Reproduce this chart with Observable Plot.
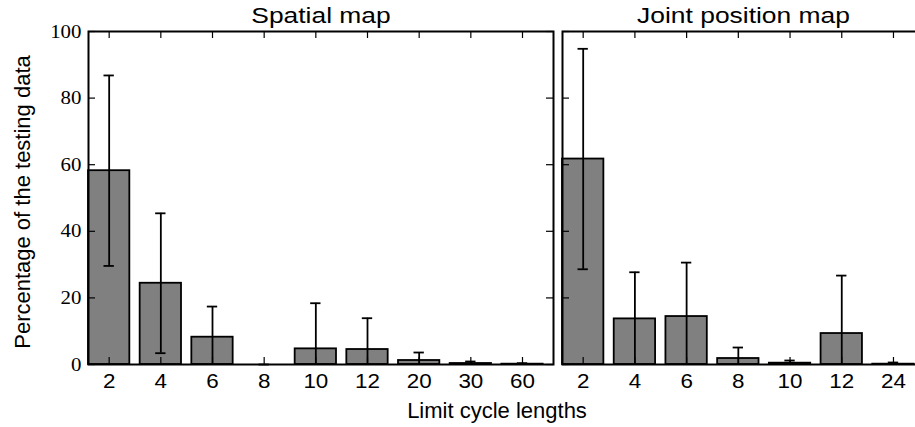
<!DOCTYPE html>
<html>
<head>
<meta charset="utf-8">
<script src="https://cdn.jsdelivr.net/npm/d3@7"></script>
<script src="https://cdn.jsdelivr.net/npm/@observablehq/plot@0.6"></script>
<style>
  html, body { margin: 0; padding: 0; background: white; }
  #wrap { position: relative; width: 915px; height: 427px; overflow: hidden; background: white; }
  #wrap svg { position: absolute; top: 0; }
  #xtitle { position: absolute; left: 347px; width: 300px; top: 400px; text-align: center;
            font: 22px/22px "Liberation Sans", Arial, sans-serif; color: black; }
</style>
</head>
<body>
<div id="wrap"><div id="xtitle">Limit cycle lengths</div></div>
<script>
// ---- data ----
const spatialLengths = ["2", "4", "6", "8", "10", "12", "20", "30", "60"];
const spatialMean    = [58.2, 24.4, 8.2, 0, 4.7, 4.5, 1.2, 0.3, 0.1];
const spatialErr     = [28.6, 21.0, 9.2, 0, 13.7, 9.4, 2.4, 0.6, 0.3];

const jointLengths = ["2", "4", "6", "8", "10", "12", "24"];
const jointMean    = [61.7, 13.7, 14.4, 1.8, 0.4, 9.3, 0.1];
const jointErr     = [33.1, 14.0, 16.2, 3.3, 0.8, 17.4, 0.5];

const yTicks = [0, 20, 40, 60, 80, 100];
const yLabel = "Percentage of the testing data";
const titles = ["Spatial map", "Joint position map"];

const H = 427, MT = 31, MB = 63, TICK = 7;

function panel({lengths, means, errs, title, width, marginLeft, marginRight, yAxis}) {
  const data = lengths.map((l, i) => ({i, l, v: means[i], e: errs[i]}));
  const idx = data.map(d => d.i);
  const innerH = H - MT - MB;
  const innerW = width - marginLeft - marginRight;
  const marks = [
    Plot.rectY(data, {x1: d => d.i - 0.4, x2: d => d.i + 0.4, y1: 0, y2: "v",
      fill: "#808080", stroke: "black", strokeWidth: 1.8}),
    Plot.ruleX(data, {x: "i", y1: d => Math.max(0, d.v - d.e), y2: d => d.v + d.e, stroke: "black", strokeWidth: 1.8}),
    Plot.ruleY(data, {y: d => d.v + d.e, x1: d => d.i - 0.1, x2: d => d.i + 0.1, stroke: "black", strokeWidth: 1.8}),
    Plot.ruleY(data.filter(d => d.v - d.e > 0), {y: d => d.v - d.e, x1: d => d.i - 0.1, x2: d => d.i + 0.1, stroke: "black", strokeWidth: 1.8}),
    // inward ticks on all four sides
    Plot.ruleX(idx, {x: d => d, insetTop: innerH - TICK, stroke: "black", strokeWidth: 1.2}),
    Plot.ruleX(idx, {x: d => d, insetBottom: innerH - TICK, stroke: "black", strokeWidth: 1.2}),
    Plot.ruleY(yTicks, {y: d => d, insetRight: innerW - TICK, stroke: "black", strokeWidth: 1.2}),
    Plot.ruleY(yTicks, {y: d => d, insetLeft: innerW - TICK, stroke: "black", strokeWidth: 1.2}),
    Plot.axisX(idx, {anchor: "bottom", tickSize: 0, tickPadding: 9, tickFormat: i => lengths[i],
      fontSize: 20, fontFamily: "Liberation Sans", label: null}),
    Plot.frame({stroke: "black", strokeWidth: 2}),
    Plot.text([title], {frameAnchor: "top", dy: -16, lineAnchor: "middle", fontSize: 22,
      fontFamily: "Liberation Sans", fill: "black"})
  ];
  if (yAxis) {
    marks.push(
      Plot.axisY(yTicks, {anchor: "left", tickSize: 0, tickPadding: 7, fontSize: 19,
        fontFamily: "Liberation Serif", label: null}),
      Plot.text([yLabel], {frameAnchor: "left", rotate: -90, dx: -66, dy: 4, textAnchor: "middle",
        lineAnchor: "middle", fontSize: 22, fontFamily: "Liberation Sans", fill: "black"})
    );
  }
  return Plot.plot({
    width, height: H, marginLeft, marginRight, marginTop: MT, marginBottom: MB,
    style: {background: "transparent", overflow: "visible", fontFamily: "Liberation Sans", color: "black"},
    x: {domain: [-0.4, lengths.length - 0.4], axis: null},
    y: {domain: [0, 100], axis: null},
    marks
  });
}

const wrap = document.getElementById("wrap");
const left = panel({lengths: spatialLengths, means: spatialMean, errs: spatialErr, title: titles[0],
  width: 560, marginLeft: 88, marginRight: 7, yAxis: true});
left.style.left = "0px";
const right = panel({lengths: jointLengths, means: jointMean, errs: jointErr, title: titles[1],
  width: 380, marginLeft: 6, marginRight: 12, yAxis: false});
right.style.left = "556px";
wrap.appendChild(left);
wrap.appendChild(right);

// the reference glyphs are horizontally wider than the installed fonts:
// widen horizontal texts (titles, tick labels) with textLength
function stretch(svg, lengths) {
  const tickSet = new Set(lengths);
  const ySet = new Set(yTicks.map(String));
  svg.querySelectorAll("text").forEach(t => {
    const s = t.textContent.trim();
    let k = 1;
    if (titles.includes(s)) k = 1.2;
    else if (t.getAttribute("font-family") === "Liberation Serif" || t.closest('[font-family="Liberation Serif"]')) k = ySet.has(s) ? 1.1 : 1;
    else if (tickSet.has(s)) k = 1.12;
    if (k !== 1) {
      const w = t.getComputedTextLength();
      if (w > 0) {
        t.setAttribute("textLength", (w * k).toFixed(2));
        t.setAttribute("lengthAdjust", "spacingAndGlyphs");
      }
    }
  });
}
stretch(left, spatialLengths);
stretch(right, jointLengths);
</script>
</body>
</html>
